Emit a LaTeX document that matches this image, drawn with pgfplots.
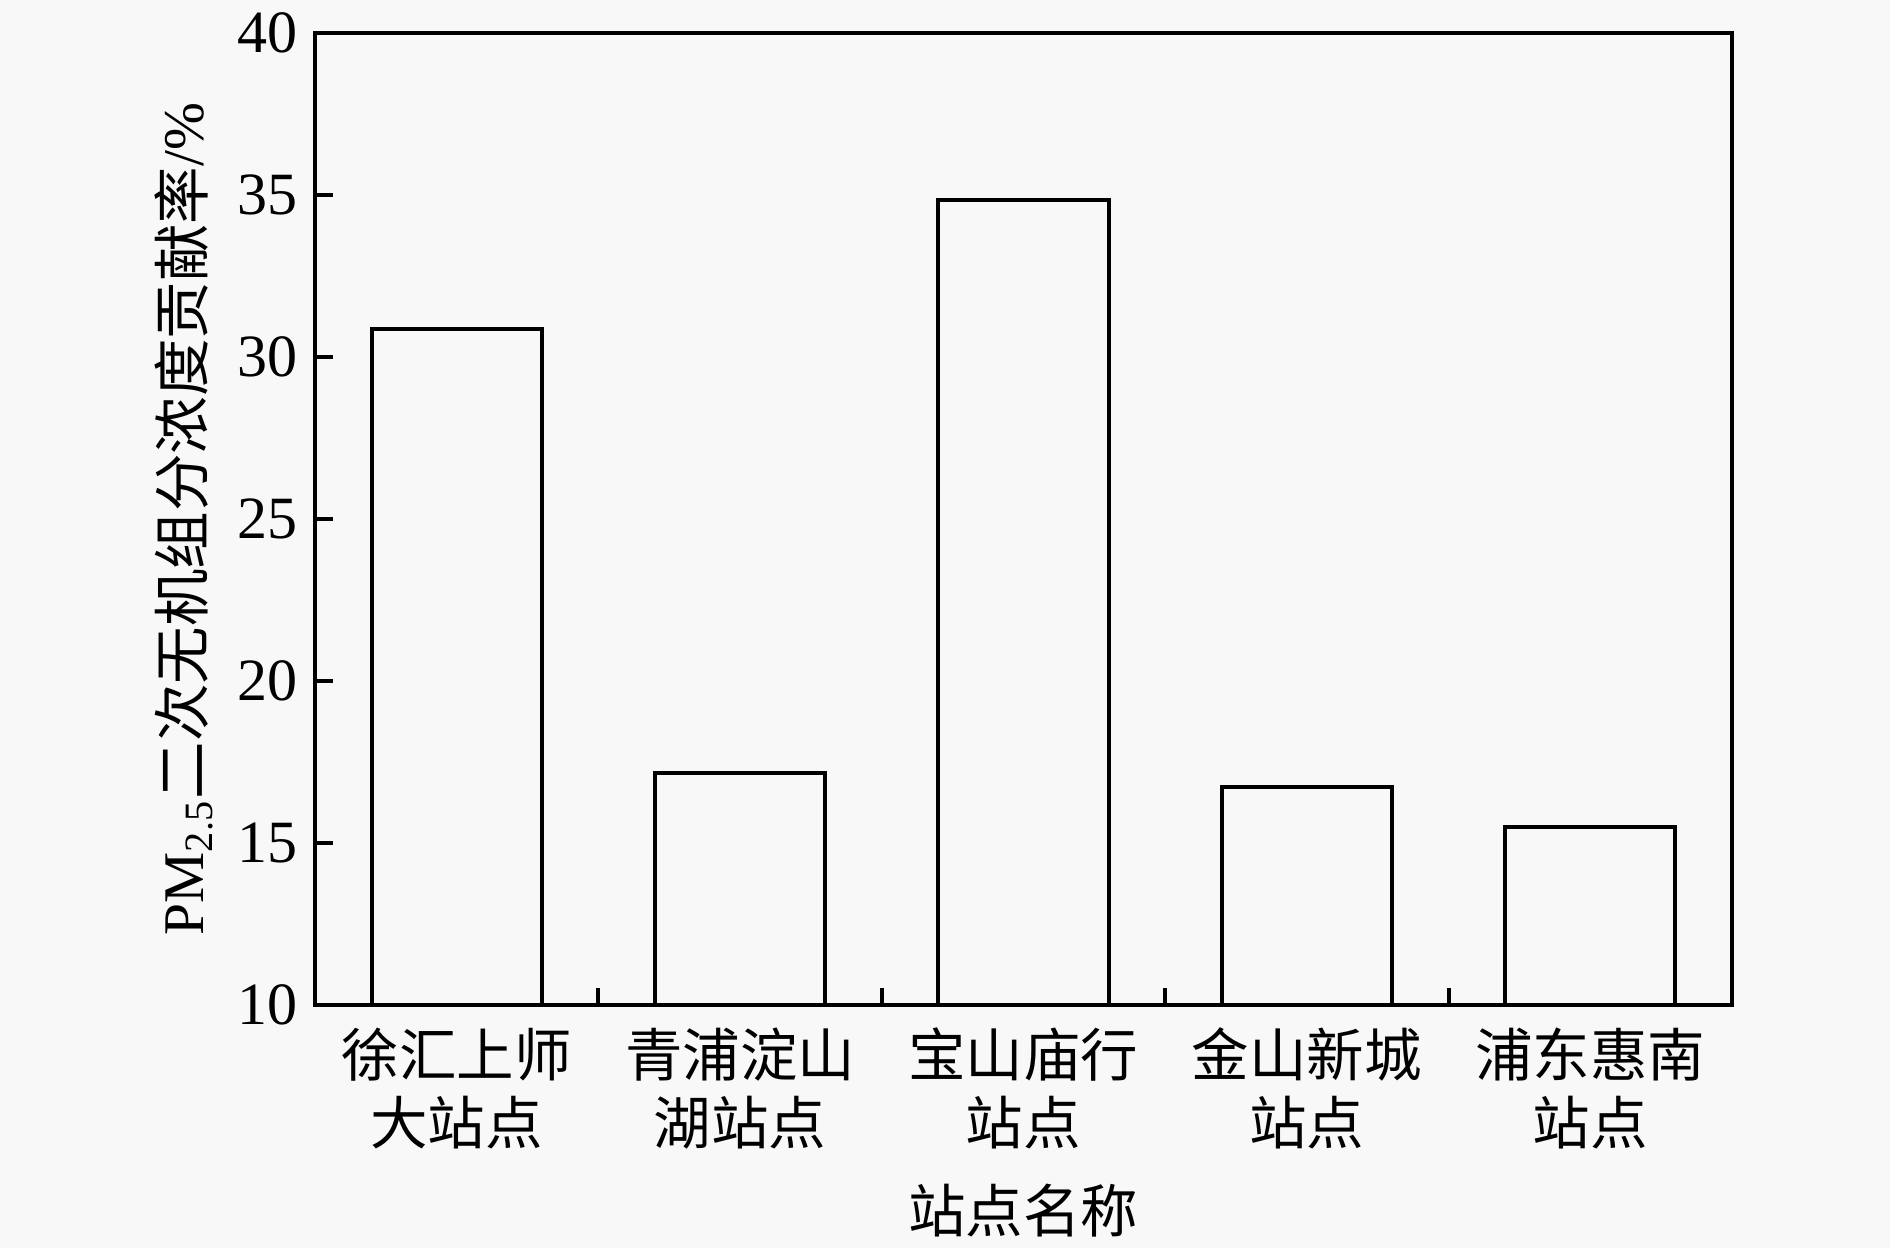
\documentclass[border=0pt]{standalone}
\usepackage{fontspec}
\setmainfont{Liberation Serif}
\newfontfamily\cjk{Noto Sans CJK SC}
\usepackage{pgfplots}
\pgfplotsset{compat=1.18}
\definecolor{bg}{RGB}{248,248,248}
\begin{document}
\begin{tikzpicture}
\useasboundingbox (0,0) rectangle (378pt,249.6pt);
\fill[bg] (0,0) rectangle (378pt,249.6pt);
\begin{axis}[
  at={(63pt,48.6pt)}, anchor=south west,
  scale only axis, width=283.4pt, height=194.4pt,
  xmin=0, xmax=5, ymin=10, ymax=40,
  ytick={10,15,...,40},
  xtick={0.5,1.5,2.5,3.5,4.5},
  xticklabels={{徐汇上师\\大站点},{青浦淀山\\湖站点},{宝山庙行\\站点},{金山新城\\站点},{浦东惠南\\站点}},
  minor xtick={1,2,3,4},
  major x tick style={draw=none},
  minor tick length=3.5pt, major tick length=3.5pt,
  tick align=inside,
  tick pos=left,
  axis line style={line width=0.9pt},
  tick style={line width=0.8pt, black},
  /pgf/number format/assume math mode=true,
  yticklabel style={font=\fontsize{12}{14}\selectfont},
  xticklabel style={font=\cjk\fontsize{11.5}{13.6}\selectfont, align=center, yshift=-1pt},
  ylabel={PM\textsubscript{2.5}{\cjk 二次无机组分浓度贡献率}/\%},
  ylabel style={at={(axis description cs:-0.0924,0.5)}, anchor=center, inner sep=0pt, font=\fontsize{11.5}{13.6}\selectfont},
  xlabel={{\cjk 站点名称}},
  xlabel style={at={(axis description cs:0.5,-0.212)}, anchor=center, inner sep=0pt, font=\fontsize{11.5}{13.6}\selectfont},
]
\addplot[ybar, bar width=0.6, draw=black, fill=none, line width=0.8pt]
  coordinates {(0.5,30.86) (1.5,17.15) (2.5,34.85) (3.5,16.74) (4.5,15.48)};
\end{axis}
\end{tikzpicture}
\end{document}
